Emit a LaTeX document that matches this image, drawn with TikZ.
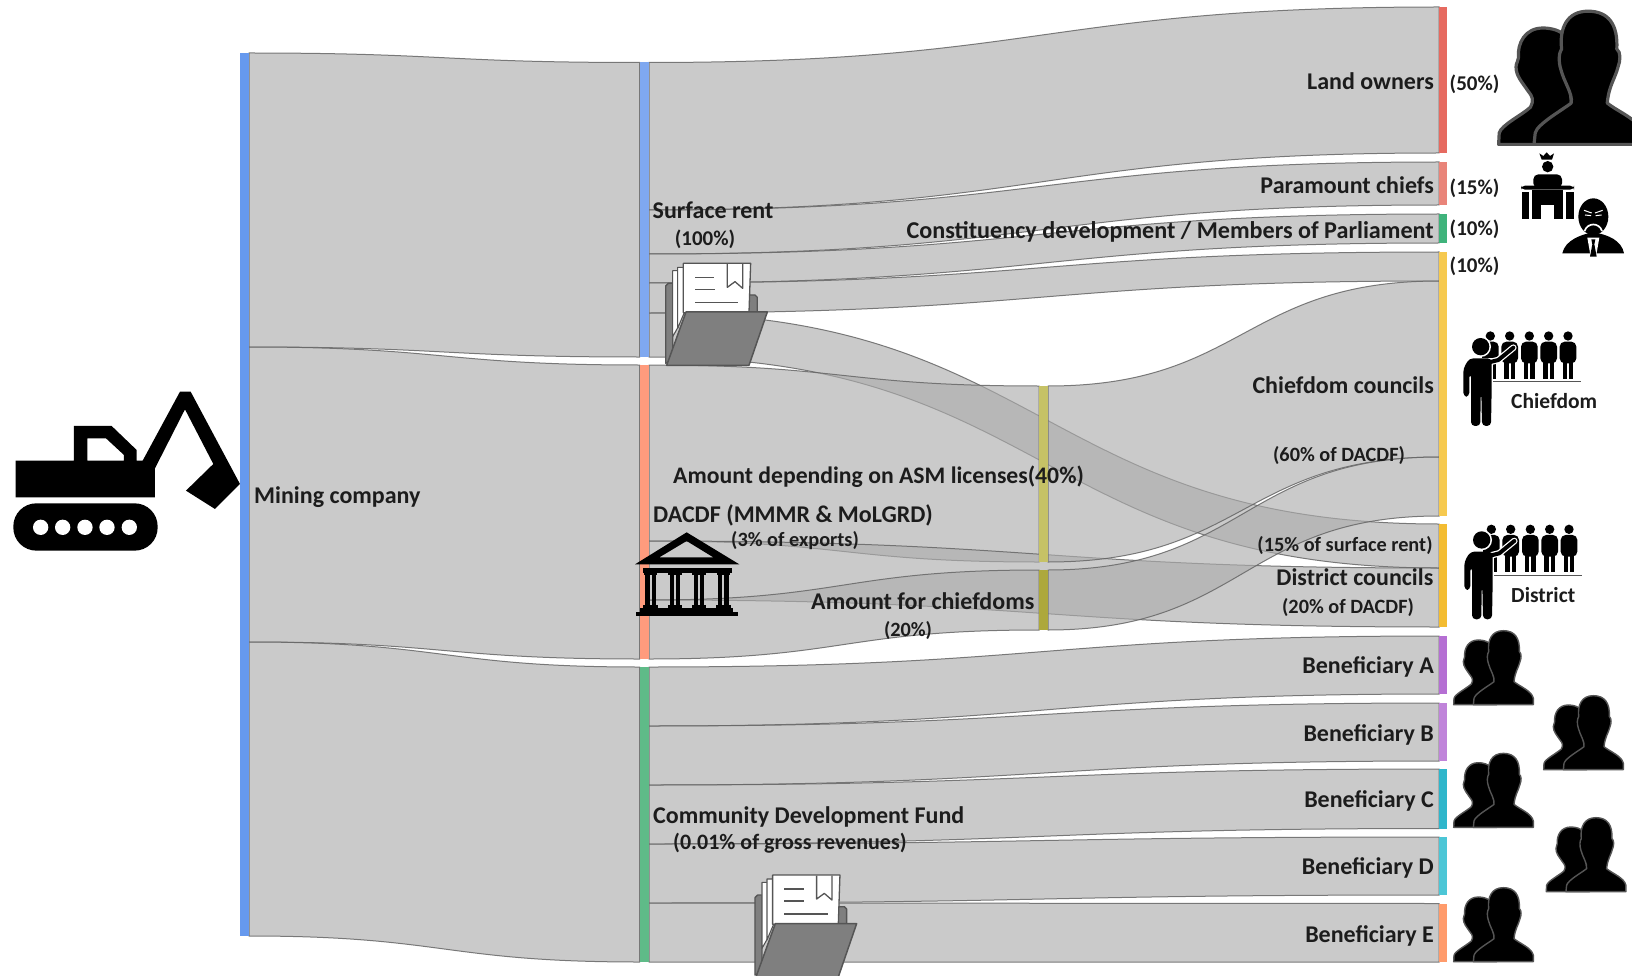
\documentclass[tikz,border=0pt]{standalone}
\usepackage{fontspec}
\setmainfont{Carlito}
\usetikzlibrary{calc}
\definecolor{flowgray}{HTML}{ADADAD}
\definecolor{edgegray}{HTML}{666666}
\definecolor{inkdark}{HTML}{1C1C1C}
\definecolor{foldergray}{HTML}{7F7F7F}
\definecolor{folderline}{HTML}{555555}
\definecolor{cMining}{HTML}{6699EE}
\definecolor{cSurface}{HTML}{7FA8F0}
\definecolor{cDacdf}{HTML}{FF9B7D}
\definecolor{cCdf}{HTML}{5FBB88}
\definecolor{cAsm}{HTML}{C6C266}
\definecolor{cChfd}{HTML}{ADA83C}
\definecolor{cLand}{HTML}{E66A60}
\definecolor{cPara}{HTML}{E98479}
\definecolor{cCons}{HTML}{3FB37B}
\definecolor{cChief}{HTML}{F6C94F}
\definecolor{cDist}{HTML}{F3BC32}
\definecolor{cBenA}{HTML}{B56FD3}
\definecolor{cBenB}{HTML}{C084DA}
\definecolor{cBenC}{HTML}{2FB6CB}
\definecolor{cBenD}{HTML}{4CC6D6}
\definecolor{cBenE}{HTML}{FF9B6B}
\tikzset{
  barbox/.style={rectangle,draw=none,inner sep=0pt,outer sep=0pt},
  bandfill/.style={fill=flowgray,fill opacity=.635,draw=edgegray,draw opacity=.85,line width=1pt},
  biglab/.style={font=\fontsize{24}{28}\bfseries\selectfont,text=inkdark,inner sep=0pt},
  smalab/.style={font=\fontsize{20.3}{24}\bfseries\selectfont,text=inkdark,inner sep=0pt},
  pctlab/.style={font=\fontsize{21}{24}\bfseries\selectfont,text=inkdark,inner sep=0pt},
  sidelab/.style={font=\fontsize{21.5}{24}\bfseries\selectfont,text=inkdark,inner sep=0pt},
}
\newcommand\barnode[5]{%
  \pgfmathsetmacro\bw{#4-#2}\pgfmathsetmacro\bh{#5-#3}%
  \pgfmathsetmacro\bx{(#4+#2)/2}\pgfmathsetmacro\by{(#5+#3)/2}%
  \node[barbox,minimum width=\bw pt,minimum height=\bh pt] (#1) at (\bx,\by) {};}
\newcommand\paintbar[2]{\fill[#2] (#1.north west) rectangle (#1.south east);}
\newcommand\flowband[6]{%
  \coordinate (aux) at (0,#2); \coordinate (pa) at (#1.east |- aux);
  \coordinate (aux) at (0,#3); \coordinate (pb) at (#1.east |- aux);
  \coordinate (aux) at (0,#5); \coordinate (qa) at (#4.west |- aux);
  \coordinate (aux) at (0,#6); \coordinate (qb) at (#4.west |- aux);
  \coordinate (mm) at ($(pa)!.5!(qa)$);
  \path[bandfill] (pa) .. controls (mm |- pa) and (mm |- qa) .. (qa) -- (qb)
     .. controls (mm |- qb) and (mm |- pb) .. (pb) -- cycle;}
\newcommand\bustsicon[4]{%
  \begin{scope}[shift={(#1,#2)},x=#3pt,y=-#3pt]
  \filldraw[fill=black,draw=folderline,line width=#4pt,line join=round]
   (41,254) -- (42,235) .. controls (45,222) and (80,205) .. (94,192) .. controls (100,180) and (98,175) .. (90,165)
   .. controls (80,150) and (70,140) .. (70,125) .. controls (70,118) and (74,115) .. (74,110)
   .. controls (72,85) and (85,60) .. (115,60) .. controls (130,60) and (145,65) .. (150,72) -- (170,254) -- cycle;
  \filldraw[fill=black,draw=folderline,line width=#4pt,line join=round]
   (100,254) -- (102,235) .. controls (105,220) and (150,195) .. (162,185) .. controls (165,170) and (150,150) .. (145,130)
   .. controls (140,115) and (142,100) .. (146,95) .. controls (142,60) and (155,32) .. (190,32)
   .. controls (225,32) and (240,55) .. (238,95) .. controls (245,100) and (244,115) .. (240,125)
   .. controls (235,145) and (225,155) .. (222,185) .. controls (240,200) and (275,212) .. (280,235) -- (280,254) -- cycle;
  \end{scope}}
\newcommand\foldericon[2]{%
  \begin{scope}[shift={(#1,#2)},x=.3333pt,y=-.3333pt,line join=round]
  \filldraw[fill=foldergray,draw=folderline,line width=1.3pt] (197,550) -- (197,318) -- (205,310) -- (218,310) -- (218,540) -- cycle;
  \filldraw[fill=foldergray,draw=folderline,line width=1.3pt] (445,345) -- (465,345) -- (472,352) -- (472,398) -- (445,398) -- cycle;
  \filldraw[fill=white,draw=folderline,line width=1.1pt] (218,272) -- (235,272) -- (235,440) -- (218,470) -- cycle;
  \filldraw[fill=white,draw=folderline,line width=1.1pt] (233,262) -- (252,262) -- (252,400) -- (233,445) -- cycle;
  \filldraw[fill=white,draw=folderline,line width=1.3pt] (250,250) -- (452,250) -- (447,398) -- (250,398) -- cycle;
  \draw[folderline,line width=1.3pt] (285,292) -- (343,292) (285,328) -- (345,328) (285,367) -- (415,367);
  \draw[folderline,line width=1.3pt] (382,252) -- (382,322) -- (405,305) -- (428,325) -- (428,252);
  \filldraw[fill=foldergray,draw=folderline,line width=1.5pt] (258,396) -- (502,396) -- (447,556) -- (200,556) -- cycle;
  \end{scope}}
\newcommand\crowdicon[2]{%
  \begin{scope}[shift={(#1,#2)},x=.3333pt,y=-.3333pt]
  \foreach \px in {121,179,238,296,354}{
    \fill (\px,33) circle[radius=14];
    \fill[rounded corners=5pt] (\px-25,50) rectangle (\px+25,115);
    \fill (\px-16,105) rectangle (\px-3,162);
    \fill (\px+3,105) rectangle (\px+16,162);
  }
  \draw[folderline,line width=.9pt] (130,170) -- (392,170);
  \fill[white] (92,65) circle[radius=31];
  \fill[white] (60,100) rectangle (128,170);
  \draw[white,line width=6.5pt,line cap=round,line join=round] (105,115) -- (145,105) -- (190,68);
  \fill (92,65) circle[radius=26];
  \draw[black,line width=4pt,line cap=round,line join=round] (105,115) -- (145,105) -- (190,68);
  \fill[rounded corners=4pt] (40,215) -- (40,130) -- (58,100) -- (125,100) -- (125,190) -- (123,303) -- (96,303) -- (94,205) -- (92,205) -- (91,303) -- (63,303) -- (63,145) -- (58,145) -- (58,215) -- cycle;
  \end{scope}}
\begin{document}
\begin{tikzpicture}[x=1pt,y=-1pt]
\useasboundingbox (0,0) rectangle (1632,976);
\fill[white] (0,0) rectangle (1632,976);
\barnode{mining}{240}{53}{249}{936}
\barnode{surface}{639.5}{62.5}{649}{357}
\barnode{dacdf}{639.5}{365}{649}{659}
\barnode{cdf}{639.5}{667}{649}{962}
\barnode{asm}{1039}{386}{1048}{562}
\barnode{chfd}{1039}{570}{1048}{630}
\barnode{land}{1439}{7}{1447}{153}
\barnode{para}{1439}{162}{1447}{205}
\barnode{cons}{1439}{214}{1447}{243}
\barnode{chief}{1439}{252}{1447}{516}
\barnode{dist}{1439}{524}{1447}{627}
\barnode{bena}{1439}{636}{1447}{694}
\barnode{benb}{1439}{703}{1447}{761}
\barnode{benc}{1439}{769}{1447}{828.5}
\barnode{bend}{1439}{837}{1447}{895}
\barnode{bene}{1439}{903.5}{1447}{962}
% flows
\flowband{mining}{53}{347}{surface}{62.5}{357}
\flowband{mining}{347}{642}{dacdf}{365}{659}
\flowband{mining}{642}{936}{cdf}{667}{962}
\flowband{surface}{62.5}{210}{land}{7}{153}
\flowband{surface}{210}{254}{para}{162}{205}
\flowband{surface}{254}{283}{cons}{214}{243}
\flowband{surface}{283}{313}{chief}{252}{281}
\flowband{surface}{313}{357}{dist}{524}{568}
\flowband{dacdf}{365}{541}{asm}{386}{562}
\flowband{dacdf}{541}{600}{dist}{568}{627}
\flowband{dacdf}{600}{659}{chfd}{570}{630}
\flowband{asm}{386}{562}{chief}{281}{457}
\flowband{chfd}{570}{630}{chief}{457}{516}
\flowband{cdf}{667}{726}{bena}{636}{694}
\flowband{cdf}{726}{785}{benb}{703}{761}
\flowband{cdf}{785}{844}{benc}{769}{828.5}
\flowband{cdf}{844}{903}{bend}{837}{895}
\flowband{cdf}{903}{962}{bene}{903.5}{962}
% bars
\paintbar{mining}{cMining}\paintbar{surface}{cSurface}\paintbar{dacdf}{cDacdf}\paintbar{cdf}{cCdf}
\paintbar{asm}{cAsm}\paintbar{chfd}{cChfd}\paintbar{land}{cLand}\paintbar{para}{cPara}
\paintbar{cons}{cCons}\paintbar{chief}{cChief}\paintbar{dist}{cDist}\paintbar{bena}{cBenA}
\paintbar{benb}{cBenB}\paintbar{benc}{cBenC}\paintbar{bend}{cBenD}\paintbar{bene}{cBenE}
% excavator
\begin{scope}[shift={(0,340)},x=.3333pt,y=-.3333pt]
  \fill[even odd rule] (47,362) -- (222,362) -- (222,258) -- (335,258) -- (410,330) -- (410,362) -- (428,362) -- (540,155) -- (572,155) -- (720,432) -- (645,507) -- (558,452) -- (640,372) -- (555,208) -- (465,385) -- (465,472) -- (47,472) -- cycle
    (262,295) -- (318,295) -- (372,345) -- (372,362) -- (262,362) -- cycle;
  \fill[rounded corners=23pt] (40,490) rectangle (473,632);
  \foreach \wx in {122,188,255,321,388} \fill[white] (\wx,562) circle[radius=23];
\end{scope}
% folders
\foldericon{600}{180}
\foldericon{689.3}{791.7}
% temple
\begin{scope}[shift={(630,525)},x=.3333pt,y=-.3333pt]
  \fill[even odd rule] (15,118) -- (170,22) -- (328,118) -- cycle (88,97) -- (170,48) -- (250,97) -- cycle;
  \fill (38,130) rectangle (305,143);
  \foreach \cx in {62,135,207,280}{
    \fill (\cx-20,143) rectangle (\cx+20,150);
    \fill (\cx-16,150) rectangle (\cx-3,240);
    \fill (\cx+3,150) rectangle (\cx+16,240);
    \fill (\cx-22,240) rectangle (\cx+22,251);
  }
  \fill (30,250) rectangle (310,262);
  \fill (18,262) rectangle (325,273);
\end{scope}
% busts
\bustsicon{1474}{-8}{.6}{3.2}
\bustsicon{1440}{620}{.3333}{1.4}
\bustsicon{1530}{685}{.3333}{1.4}
\bustsicon{1440}{742.7}{.3333}{1.4}
\bustsicon{1532.6}{807}{.3333}{1.4}
\bustsicon{1440}{877}{.3333}{1.4}
% chief + MP
\begin{scope}[shift={(1510,145)},x=.3333pt,y=-.3333pt]
  \fill (88,25) -- (100,33) -- (110,22) -- (120,33) -- (132,25) -- (126,44) -- (95,44) -- cycle;
  \fill (113,65) circle[radius=17];
  \fill[rounded corners=4pt] (33,122) rectangle (192,134);
  \fill[rounded corners=5pt] (70,130) -- (70,88) -- (156,88) -- (156,130) -- cycle;
  \fill (35,140) rectangle (58,222);
  \fill (168,140) rectangle (192,222);
  \fill (66,134) rectangle (78,222);
  \fill (148,134) rectangle (160,222);
  \fill (78,134) -- (148,134) -- (148,165) -- (78,165) -- cycle;
  \fill (78,165) rectangle (148,222);
  \fill[white] (93,180) rectangle (132,222);
  \fill (250,215) ellipse[x radius=45,y radius=55];
  \fill (157,325) .. controls (165,285) and (215,270) .. (235,265) -- (265,265) .. controls (290,270) and (335,285) .. (342,325) -- cycle;
  \fill[white] (232,278) -- (268,278) -- (258,335) -- (242,335) -- cycle;
  \fill (244,283) -- (256,283) -- (253,298) -- (260,335) -- (240,335) -- (247,298) -- cycle;
  \draw[white,line width=1pt] (222,196) -- (245,204) (278,196) -- (255,204) (225,210) -- (243,212) (275,210) -- (257,212);
  \draw[white,line width=1.7pt] (224,258) .. controls (232,232) and (268,232) .. (276,258);
\end{scope}
% councils
\crowdicon{1450}{325}
\crowdicon{1451}{518.3}
% text
\node[biglab,anchor=west] (tMining) at (254,497) {Mining company};
\node[biglab,anchor=west] (tSurface) at (652.5,210) {Surface rent};
\node[pctlab] (tSurfaceP) at (705,239) {(100\%)};
\node[biglab,anchor=west,font=\fontsize{23.7}{28}\bfseries\selectfont] (tAsm) at (673,477) {Amount depending on ASM licenses(40\%)};
\node[biglab,anchor=west] (tDacdf) at (653,515) {DACDF (MMMR \& MoLGRD)};
\node[smalab,anchor=west] (tExports) at (731,540.5) {(3\% of exports)};
\node[biglab,anchor=east] (tChfd) at (1034.5,601.5) {Amount for chiefdoms};
\node[smalab] (tChfdP) at (908,630) {(20\%)};
\node[biglab,anchor=west] (tCdf) at (653,817) {Community Development Fund};
\node[sidelab,anchor=west,font=\fontsize{22}{24}\bfseries\selectfont] (tGross) at (673,843) {(0.01\% of gross revenues)};
\node[biglab,anchor=east] (tLand) at (1434,81) {Land owners};
\node[biglab,anchor=east] (tPara) at (1434,185) {Paramount chiefs};
\node[biglab,anchor=east,font=\fontsize{24.15}{28}\bfseries\selectfont] (tCons) at (1434,232) {Constituency development / Members of Parliament};
\node[biglab,anchor=east] (tChief) at (1434,385) {Chiefdom councils};
\node[smalab] (t60) at (1339,456) {(60\% of DACDF)};
\node[smalab] (t15) at (1345,545) {(15\% of surface rent)};
\node[biglab,anchor=east] (tDist) at (1433.5,577) {District councils};
\node[smalab] (t20) at (1348,607) {(20\% of DACDF)};
\node[biglab,anchor=east] (tBenA) at (1434,667) {Beneficiary A};
\node[biglab,anchor=east] (tBenB) at (1434,734.5) {Beneficiary B};
\node[biglab,anchor=east] (tBenC) at (1434,801) {Beneficiary C};
\node[biglab,anchor=east] (tBenD) at (1434,867.5) {Beneficiary D};
\node[biglab,anchor=east] (tBenE) at (1434,936) {Beneficiary E};
\node[pctlab,anchor=west] (p50) at (1449.5,84) {(50\%)};
\node[pctlab,anchor=west] (p15) at (1449.5,188) {(15\%)};
\node[pctlab,anchor=west] (p10a) at (1449.5,229) {(10\%)};
\node[pctlab,anchor=west] (p10b) at (1449.5,266) {(10\%)};
\node[sidelab,anchor=west] (tCh) at (1511,401) {Chiefdom};
\node[sidelab,anchor=west] (tDi) at (1511,595) {District};
\end{tikzpicture}
\end{document}
